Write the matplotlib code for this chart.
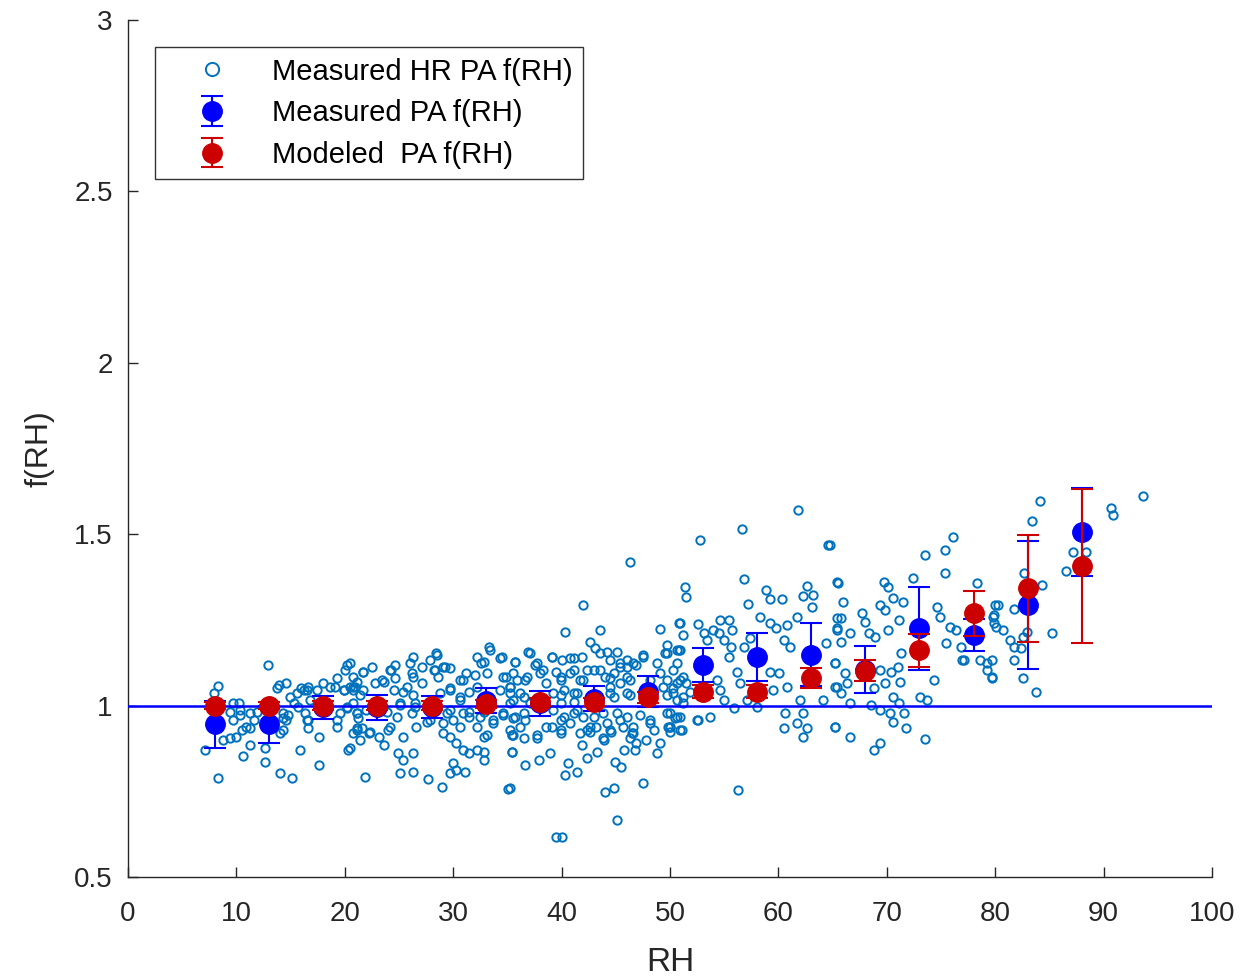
import matplotlib
matplotlib.use("Agg")
import matplotlib.pyplot as plt
from matplotlib import font_manager
from matplotlib.lines import Line2D

# ---------------- data ----------------
# binned centres
rh_bins = [8, 13, 18, 23, 28, 33, 38, 43, 48, 53, 58, 63, 68, 73, 78, 83, 88]
meas_f = [0.945, 0.945, 0.995, 0.995, 0.995, 1.014, 1.007, 1.020, 1.040, 1.118,
          1.141, 1.148, 1.105, 1.225, 1.206, 1.293, 1.507]
meas_err = [0.068, 0.053, 0.033, 0.037, 0.032, 0.036, 0.037, 0.036, 0.045, 0.049,
            0.070, 0.092, 0.069, 0.120, 0.046, 0.187, 0.129]
model_f = [1.000, 1.000, 1.000, 1.000, 1.000, 1.005, 1.011, 1.011, 1.024, 1.041,
           1.041, 1.080, 1.102, 1.162, 1.269, 1.342, 1.407]
model_err = [0.010, 0.010, 0.012, 0.012, 0.012, 0.012, 0.012, 0.012, 0.015, 0.020,
             0.020, 0.030, 0.031, 0.048, 0.066, 0.157, 0.225]

# high-resolution measured points
hr_rh = [
    12.9, 8.3, 7.9, 10.2, 9.4, 10.3, 9.7, 10.9, 10.5, 11.3, 8.8, 9.4, 10.0, 11.3, 7.1, 10.6, 8.3, 12.6, 12.6, 14.0,
    15.1, 13.7, 14.6, 15.6, 16.2, 16.6, 15.3, 14.8, 14.3, 14.0, 16.5, 16.6, 17.6, 17.6, 20.2, 20.0, 19.3, 19.1, 19.9, 20.8,
    20.2, 19.6, 19.3, 20.3, 21.1, 12.8, 11.9, 14.3, 15.9,
    9.7, 10.3, 11.3, 11.6, 13.9, 14.9, 16.0, 16.5, 15.7, 16.3, 16.6, 14.3, 14.6, 19.9, 20.5, 20.2, 21.1, 20.8, 19.3, 16.8,
    18.0, 18.6, 17.4,
    33.3, 26.3, 28.4, 27.9, 27.1, 26.0, 26.2, 28.2, 29.2, 29.7, 28.6, 32.2, 32.8, 34.3, 35.7, 22.5, 21.7, 24.3, 24.6, 23.6,
    22.8, 21.1, 20.5, 20.8, 21.4, 25.4, 26.3, 25.1, 26.5, 29.7, 30.9, 31.2, 31.5, 30.6, 34.9, 35.2, 35.5, 21.1, 22.0, 23.9,
    21.1, 22.2, 21.4, 24.0, 23.2, 23.6, 25.4, 20.5, 24.9, 25.4, 26.3, 25.1, 26.3, 21.9, 27.7, 29.0, 27.9, 29.1, 29.7, 30.3,
    30.9, 31.5, 30.0, 30.3, 31.1, 29.7, 32.2, 32.8, 33.1, 32.8, 35.4, 35.4, 35.1, 33.7, 34.6, 31.5, 32.8, 29.7,
    21.7, 23.4, 24.2, 24.6, 20.9, 21.7, 24.5, 25.7, 26.3, 27.1, 28.5, 29.1, 28.3, 30.6, 29.7, 28.8, 30.6, 25.1, 26.5, 26.2,
    24.8, 24.2, 21.2, 21.6, 22.3, 20.8, 26.6, 27.6, 29.4, 30.0, 30.6, 29.1, 30.9, 20.8,
    33.4, 34.5, 37.1, 37.7, 39.1, 40.0, 41.1, 32.6, 32.0, 33.1, 34.6, 35.5, 36.6, 38.0, 38.6, 39.9, 40.8, 41.7, 42.3, 32.2,
    34.3, 35.2, 36.2, 39.2, 40.2, 41.4, 31.5, 32.5, 34.6, 35.5, 36.5, 39.2, 40.2, 41.4, 42.0, 32.2, 33.7, 35.2, 36.2, 38.6,
    39.9, 40.8, 32.8, 35.5, 37.7, 41.7, 42.3, 37.1, 35.2, 39.9, 41.1,
    42.0, 40.3, 43.5, 49.1, 50.8, 36.9, 39.1, 40.8, 41.9, 42.6, 43.1, 44.2, 45.1, 46.0, 47.5, 49.7, 49.5, 35.7, 37.5, 38.3,
    39.5, 41.1, 43.5, 45.4, 46.9, 50.6, 35.9, 36.8, 39.9, 42.0, 44.5, 46.0, 48.2, 49.7, 35.2, 36.5, 39.9, 41.1, 44.5, 46.3,
    50.3, 35.7, 36.6, 39.9, 41.1, 42.6, 44.2, 45.4, 46.6, 48.2, 49.8, 35.4, 36.5, 37.7, 39.1, 39.9, 42.6, 44.6, 46.5, 35.4,
    37.9, 36.6, 38.9, 40.6, 40.3, 41.4, 41.9, 42.3, 43.3, 43.9, 44.9, 45.5, 45.8, 46.8, 46.9, 47.8, 48.8, 49.1, 47.5, 44.0,
    44.8, 35.2, 45.1, 39.5, 40.0, 50.0, 50.6, 46.3,
    43.5, 44.5, 45.4, 46.6, 47.5, 49.7, 50.9, 43.0, 44.0, 44.8, 46.0, 48.8, 49.1, 50.3, 51.2, 44.5, 45.4, 46.3, 49.4, 50.6,
    44.8, 46.0, 49.7, 51.2, 43.0, 43.8, 45.1, 46.0, 47.2, 49.7, 50.9, 43.2, 44.5, 45.7, 46.6, 48.2, 48.5, 50.0, 50.9, 52.5,
    43.8, 46.3,
    61.8, 56.6, 52.8, 64.6, 56.8, 51.4, 51.5, 58.9, 59.2, 60.3, 57.2, 62.6, 62.3, 63.2, 63.1, 65.4, 50.9, 51.2, 52.6, 50.8,
    53.4, 54.0, 54.6, 55.4, 55.0, 55.6, 55.4, 54.5, 56.8, 58.3, 59.2, 59.8, 57.4, 60.5, 61.7, 60.8, 61.1, 65.4, 65.4, 64.4,
    50.6, 50.9, 51.5, 50.3, 51.8, 50.6, 51.2, 50.0, 50.5, 51.1, 50.0, 52.6, 53.7, 54.3, 54.6, 55.0, 55.9, 56.2, 56.5, 57.1,
    58.0, 59.2, 59.5, 60.1, 60.8, 60.6, 60.5, 62.0, 62.3, 61.7, 62.6, 62.3, 64.1, 65.2, 65.4, 65.2, 56.3, 53.1, 55.7,
    76.1, 75.4, 73.5, 75.4, 72.4, 64.8, 65.5, 69.7, 70.1, 66.0, 70.6, 71.5, 69.4, 69.8, 67.7, 65.8, 68.0, 71.1, 65.4, 66.6,
    65.8, 68.4, 68.9, 70.1, 74.6, 74.9, 75.8, 76.4, 75.5, 76.8, 77.1, 78.3, 80.0, 79.8, 80.1, 78.6, 79.2, 79.7, 65.2, 66.1,
    66.3, 65.2, 65.8, 68.8, 69.8, 69.4, 70.4, 71.0, 71.3, 71.2, 70.6, 71.1, 73.1, 73.7, 74.4, 66.6, 68.5, 69.4, 70.3, 70.6,
    71.6, 71.8, 65.2, 66.6, 69.4, 68.8, 73.5, 76.9, 79.2,
    93.6, 84.1, 83.4, 90.7, 90.9, 87.2, 88.4, 86.5, 82.7, 84.3, 80.3, 79.9, 81.7, 79.9, 80.7, 81.4, 82.9, 82.6, 81.7, 82.4,
    85.2, 79.7, 81.7, 79.7, 82.6, 83.8,
]
hr_f = [
    1.118, 1.057, 1.036, 1.007, 0.982, 0.973, 0.958, 0.938, 0.929, 0.934, 0.900, 0.905, 0.909, 0.885, 0.870, 0.853, 0.788, 0.836, 0.875, 0.802,
    0.788, 1.050, 1.065, 1.036, 1.045, 1.055, 1.007, 0.973, 0.963, 0.919, 0.958, 0.934, 0.909, 0.827, 1.118, 1.104, 1.080, 1.055, 1.045, 1.055,
    0.992, 0.978, 0.938, 0.870, 0.929, 0.997, 0.982, 0.929, 0.870,
    1.007, 0.987, 0.978, 0.958, 1.060, 1.026, 1.050, 1.045, 0.997, 0.978, 0.958, 0.978, 0.958, 1.045, 1.055, 0.997, 0.978, 1.007, 0.958, 1.016,
    1.065, 1.055, 1.045,
    1.172, 1.143, 1.153, 1.133, 1.113, 1.123, 1.094, 1.104, 1.113, 1.109, 1.084, 1.143, 1.128, 1.138, 1.128, 1.113, 1.099, 1.104, 1.080, 1.070,
    1.065, 1.070, 1.123, 1.045, 1.031, 1.041, 1.031, 1.007, 0.997, 1.050, 1.075, 1.094, 1.041, 1.016, 1.084, 1.055, 1.016, 0.978, 0.987, 0.982,
    0.934, 0.919, 0.900, 0.929, 0.909, 0.885, 0.909, 0.875, 0.861, 0.841, 0.861, 0.802, 0.807, 0.793, 0.785, 0.763, 0.958, 0.948, 0.909, 0.890,
    0.870, 0.861, 0.832, 0.812, 0.807, 0.802, 0.870, 0.866, 0.914, 0.841, 0.914, 0.866, 0.756, 0.958, 0.973, 0.968, 0.982, 0.987,
    1.099, 1.075, 1.104, 1.118, 1.055, 1.045, 1.045, 1.055, 1.084, 1.065, 1.148, 1.113, 1.104, 1.075, 1.045, 1.036, 1.026, 1.002, 1.007, 0.978,
    0.968, 0.938, 0.963, 0.934, 0.924, 0.919, 0.938, 0.953, 0.978, 0.958, 0.938, 0.919, 0.978, 1.084,
    1.162, 1.143, 1.153, 1.123, 1.143, 1.133, 1.138, 1.123, 1.089, 1.094, 1.084, 1.094, 1.075, 1.094, 1.065, 1.084, 1.094, 1.075, 1.104, 1.055,
    1.045, 1.055, 1.036, 1.036, 1.045, 1.036, 0.982, 0.968, 0.978, 0.963, 0.978, 0.987, 0.968, 0.987, 0.968, 0.938, 0.948, 0.929, 0.938, 0.938,
    0.929, 0.948, 0.909, 0.914, 0.905, 0.919, 0.929, 1.007, 1.007, 1.007, 1.011,
    1.293, 1.216, 1.221, 1.223, 1.240, 1.157, 1.143, 1.138, 1.143, 1.186, 1.167, 1.157, 1.157, 1.133, 1.148, 1.177, 1.153, 1.128, 1.118, 1.104,
    1.099, 1.104, 1.104, 1.113, 1.118, 1.123, 1.075, 1.084, 1.075, 1.075, 1.080, 1.084, 1.075, 1.075, 1.036, 1.026, 1.031, 1.036, 1.036, 1.031,
    1.036, 0.968, 0.958, 0.958, 0.978, 0.938, 0.948, 0.958, 0.938, 0.948, 0.938, 0.914, 0.905, 0.914, 0.938, 0.919, 0.924, 0.924, 0.919, 0.866,
    0.841, 0.827, 0.861, 0.832, 0.798, 0.807, 0.885, 0.846, 0.866, 0.900, 0.836, 0.822, 0.870, 0.870, 0.890, 0.900, 0.861, 0.890, 0.773, 0.749,
    0.759, 0.759, 0.666, 0.618, 0.618, 0.924, 0.968, 1.418,
    1.153, 1.133, 1.123, 1.123, 1.143, 1.153, 1.162, 1.104, 1.084, 1.094, 1.113, 1.123, 1.094, 1.104, 1.084, 1.055, 1.065, 1.075, 1.055, 1.065,
    1.026, 1.036, 1.031, 1.026, 0.968, 0.978, 0.978, 0.968, 0.973, 0.978, 0.968, 0.938, 0.929, 0.938, 0.919, 0.958, 0.929, 0.938, 0.929, 0.958,
    0.905, 0.905,
    1.571, 1.514, 1.483, 1.468, 1.368, 1.345, 1.318, 1.337, 1.310, 1.310, 1.296, 1.349, 1.320, 1.323, 1.287, 1.361, 1.240, 1.206, 1.238, 1.162,
    1.191, 1.221, 1.250, 1.250, 1.191, 1.172, 1.143, 1.211, 1.172, 1.259, 1.240, 1.226, 1.196, 1.191, 1.259, 1.235, 1.172, 1.255, 1.221, 1.182,
    1.162, 1.075, 1.065, 1.050, 1.041, 1.016, 1.007, 0.978, 0.963, 0.929, 0.938, 0.958, 0.968, 1.075, 1.045, 1.016, 0.992, 1.099, 1.065, 1.016,
    0.997, 1.099, 1.045, 1.094, 1.055, 0.978, 0.934, 1.016, 0.978, 0.948, 0.934, 0.909, 1.016, 0.938, 1.055, 1.123, 0.754, 1.211, 1.221,
    1.491, 1.454, 1.439, 1.386, 1.371, 1.468, 1.357, 1.361, 1.345, 1.303, 1.313, 1.303, 1.293, 1.279, 1.269, 1.255, 1.245, 1.250, 1.226, 1.211,
    1.186, 1.211, 1.201, 1.221, 1.289, 1.259, 1.230, 1.221, 1.182, 1.172, 1.133, 1.357, 1.293, 1.259, 1.230, 1.133, 1.123, 1.084, 1.123, 1.094,
    1.065, 1.055, 1.036, 1.050, 1.065, 1.104, 1.099, 1.113, 1.153, 1.070, 1.026, 1.007, 1.026, 1.016, 1.075, 1.007, 1.002, 0.987, 0.978, 0.953,
    0.978, 0.934, 0.938, 0.908, 0.890, 0.870, 0.902, 1.133, 1.104,
    1.611, 1.598, 1.539, 1.576, 1.556, 1.449, 1.449, 1.394, 1.386, 1.352, 1.293, 1.264, 1.281, 1.240, 1.221, 1.191, 1.216, 1.201, 1.172, 1.167,
    1.211, 1.133, 1.133, 1.080, 1.080, 1.041,
]

# ---------------- style ----------------
avail = {f.name for f in font_manager.fontManager.ttflist}
fam = [f for f in ["Liberation Sans Narrow", "Liberation Sans", "DejaVu Sans"] if f in avail]
plt.rcParams["font.family"] = fam

W, H = 1245, 980
fig = plt.figure(figsize=(W / 100, H / 100), dpi=100)
ax = fig.add_axes([128 / W, (H - 877) / H, (1212 - 128) / W, (877 - 20) / H])

hr_color = "#0072BD"
blue = "#0000FF"
red = "#CC0000"
txt = "#262626"

ax.plot(hr_rh, hr_f, linestyle="none", marker="o", ms=6.0, mfc="none",
        mec=hr_color, mew=1.4, zorder=2)
ax.axhline(1.0, color=blue, lw=1.8, zorder=3)
h_meas = ax.errorbar(rh_bins, meas_f, yerr=meas_err, fmt="o", color=blue, ms=14,
                     ecolor=blue, elinewidth=1.5, capsize=8, capthick=1.5, zorder=4)
h_mod = ax.errorbar(rh_bins, model_f, yerr=model_err, fmt="o", color=red, ms=14,
                    ecolor=red, elinewidth=1.5, capsize=8, capthick=1.5, zorder=5)

ax.set_xlim(0, 100)
ax.set_ylim(0.5, 3)
ax.set_xticks(range(0, 101, 10))
ax.set_yticks([0.5, 1, 1.5, 2, 2.5, 3])
ax.set_yticklabels(["0.5", "1", "1.5", "2", "2.5", "3"])
ax.spines["top"].set_visible(False)
ax.spines["right"].set_visible(False)
for s in ("left", "bottom"):
    ax.spines[s].set_color(txt)
    ax.spines[s].set_linewidth(1.0)
ax.tick_params(direction="in", length=7, width=1.0, colors=txt,
               labelsize=20, labelcolor=txt)
ax.tick_params(axis="x", pad=17)
ax.tick_params(axis="y", pad=11)
ax.set_xlabel("RH", fontsize=24, color=txt, labelpad=15)
ax.set_ylabel("f(RH)", fontsize=23, color=txt, labelpad=14)

hr_proxy = Line2D([], [], linestyle="none", marker="o", ms=9.5, mfc="none",
                  mec=hr_color, mew=1.4)
leg = fig.legend([hr_proxy, h_meas, h_mod],
                 ["Measured HR PA f(RH)", "Measured PA f(RH)", "Modeled  PA f(RH)"],
                 loc="upper left", bbox_to_anchor=(155 / W, 1 - 47 / H),
                 fontsize=21, frameon=True, fancybox=False, borderaxespad=0,
                 handlelength=3.2, handletextpad=0.45, labelspacing=0.47,
                 borderpad=0.36, markerscale=1.0)
leg.get_frame().set_edgecolor("black")
leg.get_frame().set_linewidth(1.0)

fig.savefig("out.png", dpi=100)
